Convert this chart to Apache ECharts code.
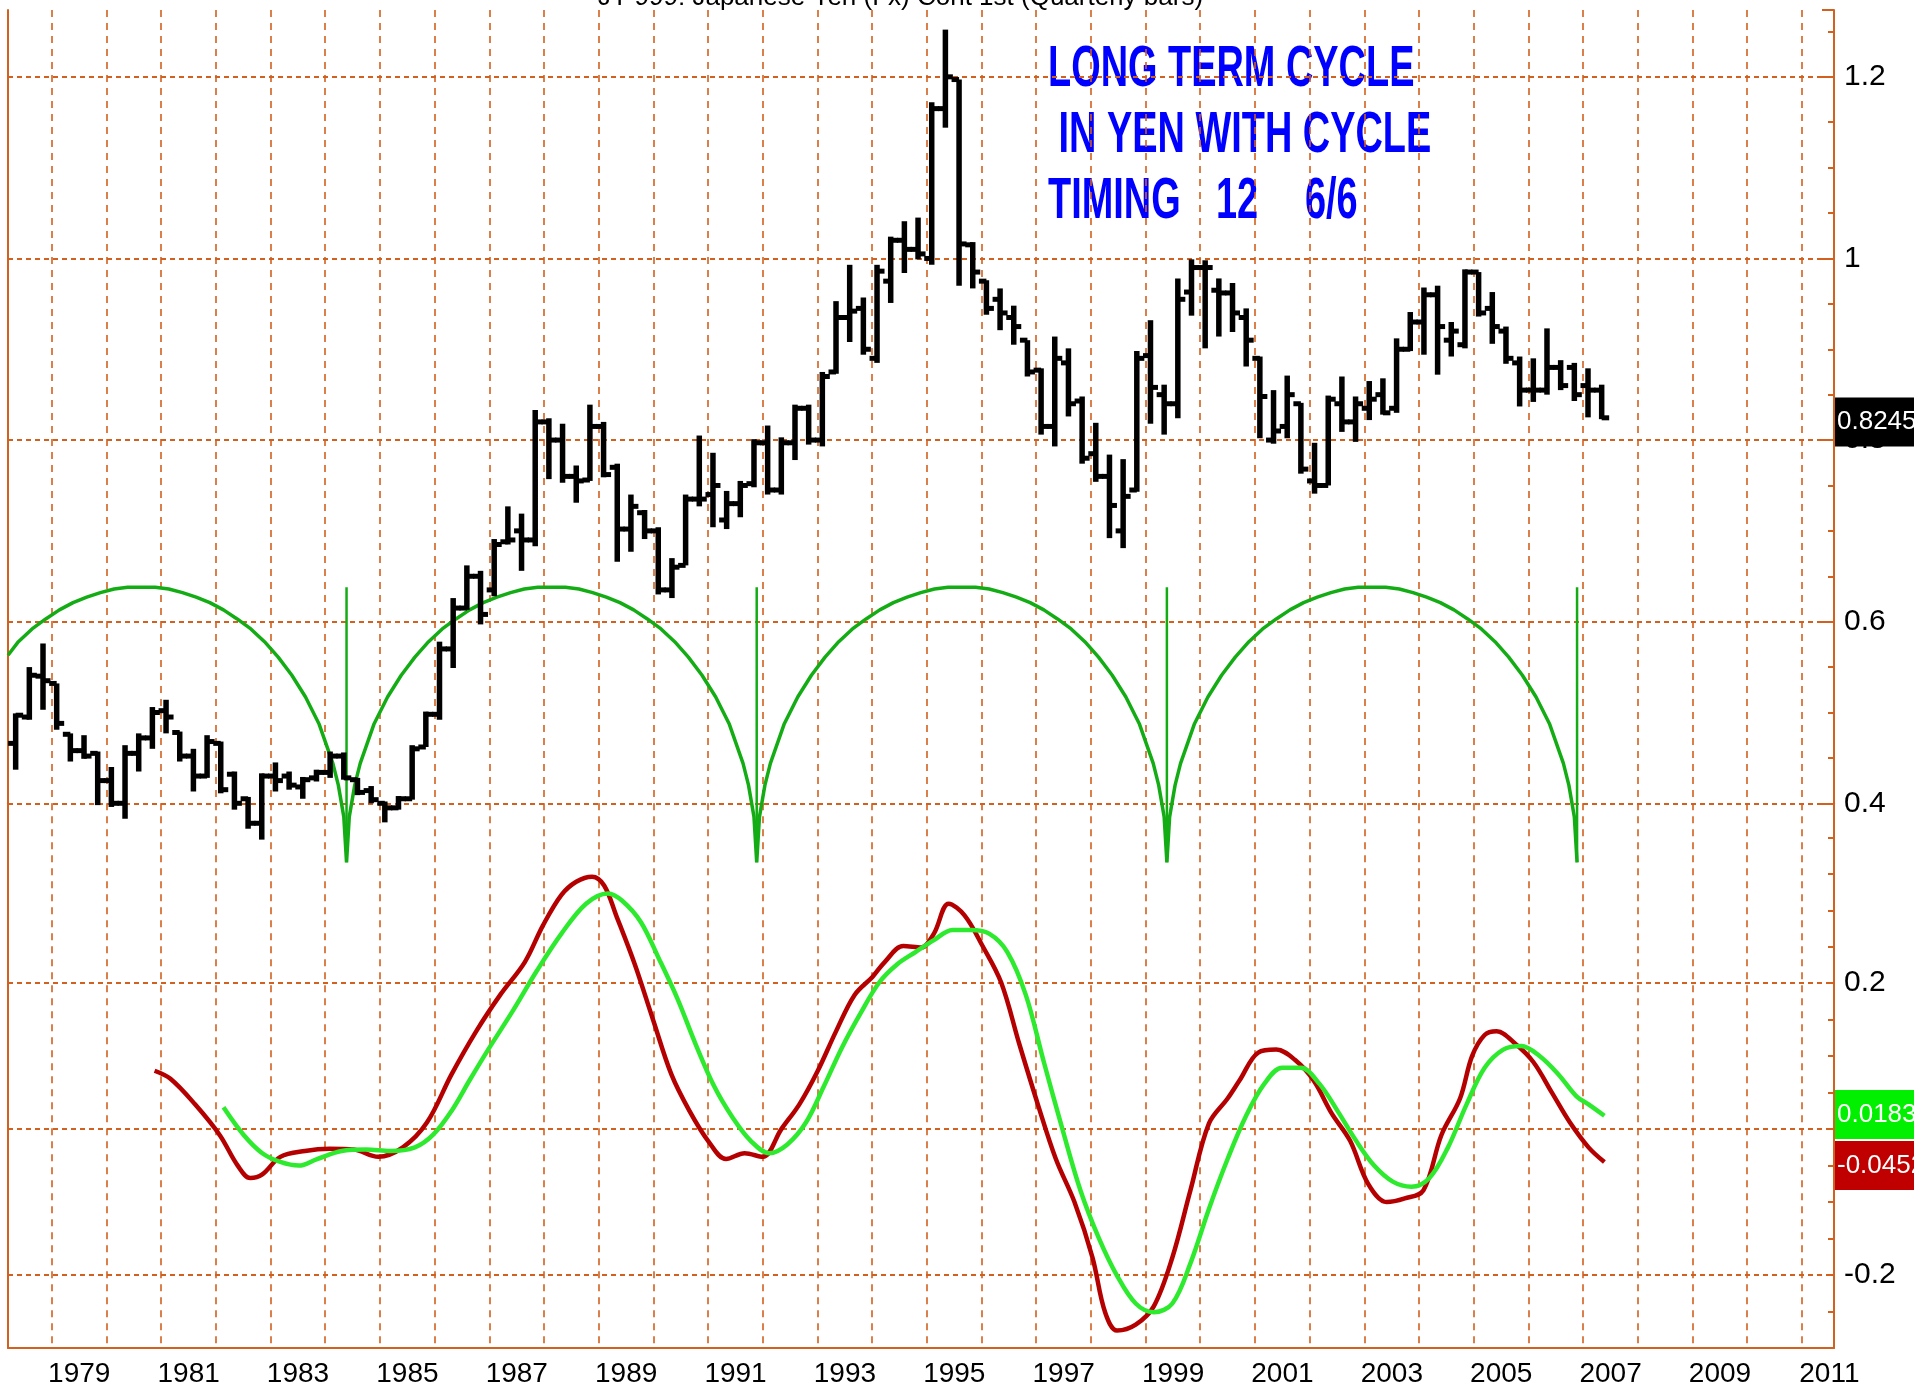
<!DOCTYPE html>
<html>
<head>
<meta charset="utf-8">
<title>JY-999 Japanese Yen - long term cycle</title>
<style>
    html, body { margin: 0; padding: 0; background: #fff; }
    #chart { width: 1914px; height: 1393px; }
</style>
</head>
<body>
<div id="chart"></div>
<script src="https://cdn.jsdelivr.net/npm/echarts@6/dist/echarts.min.js"></script>
<script type="text/javascript">
    // quarterly bars, first one sits at 1978.34
    var firstQuarter = 1978.34;
    var opens = [
        0.466, 0.495, 0.540, 0.532, 0.476, 0.458, 0.455, 0.425, 0.400, 0.455,
        0.472, 0.502, 0.478, 0.452, 0.430, 0.466, 0.432, 0.405, 0.378, 0.430,
        0.430, 0.418, 0.428, 0.434, 0.452, 0.426, 0.414, 0.400, 0.395, 0.405,
        0.462, 0.498, 0.570, 0.615, 0.650, 0.635, 0.688, 0.700, 0.690, 0.820,
        0.800, 0.760, 0.756, 0.815, 0.770, 0.702, 0.720, 0.700, 0.635, 0.662,
        0.735, 0.740, 0.712, 0.730, 0.752, 0.797, 0.745, 0.797, 0.835, 0.800,
        0.875, 0.935, 0.945, 0.890, 0.975, 1.020, 1.010, 1.000, 1.165, 1.197,
        1.015, 0.975, 0.955, 0.935, 0.910, 0.877, 0.815, 0.885, 0.843, 0.785,
        0.760, 0.700, 0.745, 0.893, 0.850, 0.840, 0.963, 0.990, 0.965, 0.962,
        0.935, 0.890, 0.800, 0.815, 0.840, 0.755, 0.750, 0.840, 0.820, 0.835,
        0.850, 0.835, 0.900, 0.930, 0.960, 0.910, 0.905, 0.985, 0.945, 0.920,
        0.885, 0.855, 0.855, 0.880, 0.880, 0.860, 0.855
    ];
    var highs = [
        0.499, 0.550, 0.576, 0.532, 0.477, 0.475, 0.457, 0.440, 0.464, 0.477,
        0.506, 0.514, 0.479, 0.460, 0.475, 0.468, 0.435, 0.407, 0.433, 0.445,
        0.435, 0.429, 0.437, 0.457, 0.456, 0.428, 0.419, 0.402, 0.408, 0.464,
        0.501, 0.578, 0.626, 0.662, 0.656, 0.691, 0.727, 0.719, 0.833, 0.824,
        0.818, 0.772, 0.839, 0.820, 0.774, 0.740, 0.723, 0.704, 0.670, 0.740,
        0.805, 0.786, 0.744, 0.755, 0.801, 0.816, 0.803, 0.839, 0.839, 0.875,
        0.953, 0.993, 0.957, 0.993, 1.024, 1.041, 1.045, 1.172, 1.252, 1.197,
        1.018, 0.976, 0.967, 0.948, 0.910, 0.879, 0.914, 0.901, 0.848, 0.819,
        0.784, 0.779, 0.898, 0.932, 0.861, 0.978, 0.999, 0.998, 0.978, 0.973,
        0.945, 0.892, 0.855, 0.871, 0.841, 0.797, 0.849, 0.870, 0.848, 0.865,
        0.868, 0.912, 0.941, 0.968, 0.970, 0.930, 0.988, 0.985, 0.963, 0.925,
        0.892, 0.890, 0.923, 0.888, 0.885, 0.879, 0.861
    ];
    var lows = [
        0.437, 0.492, 0.503, 0.481, 0.446, 0.449, 0.398, 0.396, 0.383, 0.435,
        0.460, 0.477, 0.446, 0.413, 0.428, 0.411, 0.393, 0.372, 0.360, 0.413,
        0.415, 0.405, 0.424, 0.428, 0.426, 0.409, 0.400, 0.379, 0.393, 0.404,
        0.462, 0.492, 0.549, 0.613, 0.597, 0.628, 0.685, 0.656, 0.683, 0.757,
        0.753, 0.731, 0.755, 0.759, 0.666, 0.677, 0.691, 0.630, 0.626, 0.662,
        0.727, 0.704, 0.702, 0.715, 0.748, 0.740, 0.740, 0.778, 0.795, 0.793,
        0.873, 0.908, 0.894, 0.885, 0.951, 0.984, 0.999, 0.993, 1.144, 0.970,
        0.967, 0.938, 0.921, 0.905, 0.870, 0.806, 0.793, 0.826, 0.774, 0.754,
        0.692, 0.681, 0.743, 0.818, 0.806, 0.824, 0.937, 0.901, 0.914, 0.919,
        0.881, 0.802, 0.796, 0.802, 0.763, 0.741, 0.750, 0.809, 0.798, 0.822,
        0.828, 0.830, 0.898, 0.894, 0.872, 0.892, 0.901, 0.936, 0.906, 0.884,
        0.837, 0.842, 0.850, 0.855, 0.843, 0.825, 0.823
    ];
    var closes = [
        0.497, 0.541, 0.535, 0.488, 0.458, 0.452, 0.425, 0.400, 0.455, 0.472,
        0.500, 0.495, 0.452, 0.430, 0.468, 0.415, 0.400, 0.378, 0.430, 0.425,
        0.420, 0.426, 0.434, 0.452, 0.428, 0.412, 0.404, 0.395, 0.405, 0.460,
        0.498, 0.570, 0.615, 0.650, 0.608, 0.685, 0.690, 0.690, 0.820, 0.800,
        0.760, 0.755, 0.815, 0.762, 0.702, 0.727, 0.700, 0.635, 0.660, 0.735,
        0.735, 0.750, 0.730, 0.750, 0.797, 0.745, 0.797, 0.835, 0.800, 0.870,
        0.935, 0.942, 0.900, 0.986, 1.020, 1.010, 1.005, 1.165, 1.200, 1.016,
        0.985, 0.945, 0.940, 0.925, 0.875, 0.815, 0.890, 0.840, 0.780, 0.760,
        0.728, 0.738, 0.890, 0.858, 0.840, 0.955, 0.990, 0.990, 0.962, 0.940,
        0.910, 0.848, 0.810, 0.850, 0.768, 0.750, 0.845, 0.820, 0.840, 0.845,
        0.830, 0.900, 0.930, 0.960, 0.925, 0.920, 0.985, 0.940, 0.925, 0.890,
        0.855, 0.855, 0.880, 0.860, 0.850, 0.855, 0.8245
    ];

    // long term cycle: lows 7.5 years apart, half-arc profile
    var cycleLows = [1976.89, 1984.39, 1991.89, 1999.39, 2006.89];
    var cycleOffsets = [0, 0.05, 0.15, 0.25, 0.5, 0.75, 1, 1.25, 1.5, 1.75, 2, 2.25, 2.5, 2.75, 3, 3.25, 3.5, 3.75];
    var cycleLevels = [0.335, 0.385, 0.420, 0.444, 0.487, 0.517, 0.541, 0.561, 0.578, 0.592, 0.603, 0.613, 0.621, 0.627, 0.632, 0.636, 0.638, 0.638];
    var cycleEdge = [1978.2, 0.563];
    var cycleTop = 0.638;

    // timing oscillator (lower pane)
    var redYears = [1980.88, 1981.17, 1981.62, 1982.07, 1982.40, 1982.63, 1982.85, 1983.18, 1983.63, 1984.08,
        1984.52, 1984.97, 1985.42, 1985.86, 1986.31, 1986.76, 1987.20, 1987.65, 1987.98, 1988.32,
        1988.59, 1988.88, 1989.10, 1989.32, 1989.66, 1989.99, 1990.33, 1990.66, 1991.00, 1991.33,
        1991.67, 1992.00, 1992.34, 1992.67, 1993.00, 1993.34, 1993.68, 1994.01, 1994.23, 1994.57,
        1994.90, 1995.13, 1995.40, 1995.69, 1996.02, 1996.36, 1996.69, 1997.03, 1997.36, 1997.70,
        1998.03, 1998.26, 1998.48, 1998.82, 1999.15, 1999.49, 1999.82, 2000.16, 2000.50, 2000.72,
        2001.06, 2001.39, 2001.73, 2002.07, 2002.40, 2002.74, 2003.07, 2003.41, 2003.74, 2004.08,
        2004.41, 2004.75, 2004.97, 2005.20, 2005.42, 2005.76, 2006.09, 2006.43, 2006.76, 2007.10, 2007.39];
    var redValues = [0.080, 0.069, 0.034, -0.008, -0.050, -0.067, -0.062, -0.038, -0.030, -0.027,
        -0.028, -0.038, -0.025, 0.009, 0.075, 0.134, 0.184, 0.229, 0.279, 0.321,
        0.339, 0.346, 0.334, 0.293, 0.226, 0.151, 0.075, 0.025, -0.016, -0.041,
        -0.033, -0.038, 0.000, 0.034, 0.079, 0.134, 0.184, 0.209, 0.229, 0.251,
        0.249, 0.268, 0.309, 0.293, 0.251, 0.201, 0.117, 0.034, -0.041, -0.100,
        -0.176, -0.251, -0.276, -0.268, -0.243, -0.176, -0.084, 0.008, 0.042, 0.067,
        0.105, 0.109, 0.095, 0.067, 0.022, -0.016, -0.075, -0.100, -0.095, -0.084,
        -0.008, 0.042, 0.100, 0.129, 0.134, 0.117, 0.092, 0.050, 0.009, -0.025, -0.0452];
    var greenYears = [1982.14, 1982.51, 1982.85, 1983.18, 1983.52, 1983.85, 1984.30, 1984.75, 1985.19, 1985.64,
        1985.97, 1986.31, 1986.64, 1986.98, 1987.43, 1987.87, 1988.32, 1988.77, 1989.17, 1989.43,
        1989.77, 1990.10, 1990.44, 1990.77, 1991.11, 1991.44, 1991.78, 1992.12, 1992.45, 1992.79,
        1993.12, 1993.45, 1993.79, 1994.13, 1994.46, 1994.80, 1995.13, 1995.47, 1995.80, 1996.14,
        1996.47, 1996.81, 1997.14, 1997.48, 1997.81, 1998.15, 1998.48, 1998.82, 1999.15, 1999.49,
        1999.82, 2000.16, 2000.50, 2000.83, 2001.17, 2001.50, 2001.84, 2002.18, 2002.51, 2002.85,
        2003.18, 2003.52, 2003.86, 2004.19, 2004.53, 2004.87, 2005.20, 2005.54, 2005.87, 2006.21,
        2006.55, 2006.88, 2007.10, 2007.39];
    var greenValues = [0.030, -0.008, -0.033, -0.045, -0.050, -0.041, -0.030, -0.028, -0.030, -0.025,
        -0.008, 0.025, 0.067, 0.109, 0.162, 0.217, 0.268, 0.309, 0.323, 0.313,
        0.284, 0.234, 0.179, 0.117, 0.059, 0.017, -0.016, -0.033, -0.021, 0.009,
        0.059, 0.112, 0.159, 0.201, 0.226, 0.243, 0.259, 0.273, 0.273, 0.268,
        0.243, 0.184, 0.092, 0.000, -0.084, -0.150, -0.201, -0.239, -0.251, -0.239,
        -0.184, -0.109, -0.041, 0.017, 0.062, 0.084, 0.084, 0.062, 0.025, -0.016,
        -0.050, -0.072, -0.079, -0.067, -0.025, 0.034, 0.084, 0.109, 0.114, 0.100,
        0.075, 0.045, 0.034, 0.0183];

    // tick labels
    var priceTicks = [0.4, 0.6, 0.8, 1, 1.2];
    var oscTicks = [-0.2, 0.2];
    var yearLabels = [1979, 1981, 1983, 1985, 1987, 1989, 1991, 1993, 1995, 1997,
        1999, 2001, 2003, 2005, 2007, 2009, 2011];

    var orange = '#d2601e';
    var none = 'rgba(0,0,0,0)';
    var labelFont = "'Liberation Sans', Arial, sans-serif";
    var bannerFont = 'bold 57px "Liberation Sans", Arial, sans-serif';

    var bars = [];
    for (var i = 0; i < opens.length; i++) {
        bars.push([firstQuarter + i * 0.25, opens[i], highs[i], lows[i], closes[i]]);
    }

    var cycleData = [cycleEdge];
    for (var k = 0; k < cycleLows.length - 1; k++) {
        var a = cycleLows[k], b = cycleLows[k + 1];
        for (var j = 0; j < cycleOffsets.length; j++) {
            if (a + cycleOffsets[j] > cycleEdge[0]) cycleData.push([a + cycleOffsets[j], cycleLevels[j]]);
        }
        for (var j = cycleOffsets.length - 2; j >= 0; j--) {
            cycleData.push([b - cycleOffsets[j], cycleLevels[j]]);
        }
    }
    var spikes = [];
    for (var k = 0; k < cycleLows.length; k++) {
        if (cycleLows[k] > cycleEdge[0]) spikes.push([cycleLows[k], cycleLevels[0], cycleTop]);
    }

    function pairs(xs, ys) {
        var out = [];
        for (var i = 0; i < xs.length; i++) out.push([xs[i], ys[i]]);
        return out;
    }

    function near(v, list) {
        for (var i = 0; i < list.length; i++) {
            if (Math.abs(v - list[i]) < 1e-6) return true;
        }
        return false;
    }

    function drawBar(params, api) {
        var x = api.value(0);
        var hi = api.coord([x, api.value(2)]);
        var lo = api.coord([x, api.value(3)]);
        var op = api.coord([x, api.value(1)]);
        var cl = api.coord([x, api.value(4)]);
        return {
            type: 'group',
            children: [
                {type: 'line', shape: {x1: hi[0], y1: hi[1], x2: lo[0], y2: lo[1]}, style: {stroke: '#000', lineWidth: 5.5}},
                {type: 'line', shape: {x1: op[0] - 7.5, y1: op[1], x2: op[0], y2: op[1]}, style: {stroke: '#000', lineWidth: 5}},
                {type: 'line', shape: {x1: cl[0], y1: cl[1], x2: cl[0] + 7.5, y2: cl[1]}, style: {stroke: '#000', lineWidth: 5}}
            ]
        };
    }

    function drawSpike(params, api) {
        var x = api.value(0);
        var p0 = api.coord([x, api.value(1)]);
        var p1 = api.coord([x, api.value(2)]);
        return {type: 'line', shape: {x1: p0[0], y1: p0[1], x2: p1[0], y2: p1[1]}, style: {stroke: '#14ac14', lineWidth: 2.5}};
    }

    // last-value box on the right axis
    function tag(value, bg) {
        return {
            silent: true,
            symbol: ['none', 'none'],
            lineStyle: {color: none, width: 0},
            label: {
                show: true, position: 'end', distance: 1,
                formatter: String(value),
                color: '#fff', backgroundColor: bg,
                fontFamily: labelFont, fontSize: 26,
                padding: [12, 2, 11, 2]
            },
            data: [{yAxis: value}]
        };
    }

    // x ticks every 0.2 yr from 1978.2, only whole years get a grid line
    var yearGrid = {
        show: true, showMinLine: true, showMaxLine: false,
        lineStyle: {color: [none, none, none, none, orange], width: 1.6, type: [7, 6]}
    };
    var hStyle = {color: orange, width: 2, type: [5, 4]};
    var edge = {color: orange, width: 2};

    var myChart = echarts.init(document.getElementById('chart'));
    var option = {
        animation: false,
        backgroundColor: '#fff',
        grid: [
            {left: 8, right: 80, top: 10, height: 793.3},
            {left: 8, right: 80, top: 803.3, bottom: 45}
        ],
        graphic: [
            {type: 'text', x: 598, y: -2, style: {text: 'JY-999: Japanese Yen (Fx) Cont 1st (Quarterly bars)', font: '26px ' + labelFont, fill: '#000', verticalAlign: 'middle'}},
            {type: 'text', x: 1048, y: 70, scaleX: 0.665, style: {text: 'LONG TERM CYCLE', font: bannerFont, fill: '#0000ff', verticalAlign: 'middle'}},
            {type: 'text', x: 1048, y: 136, scaleX: 0.665, style: {text: ' IN YEN WITH CYCLE', font: bannerFont, fill: '#0000ff', verticalAlign: 'middle'}},
            {type: 'text', x: 1048, y: 202, scaleX: 0.665, style: {text: 'TIMING', font: bannerFont, fill: '#0000ff', verticalAlign: 'middle'}},
            {type: 'text', x: 1216, y: 202, scaleX: 0.665, style: {text: '12', font: bannerFont, fill: '#0000ff', verticalAlign: 'middle'}},
            {type: 'text', x: 1305, y: 202, scaleX: 0.665, style: {text: '6/6', font: bannerFont, fill: '#0000ff', verticalAlign: 'middle'}}
        ],
        xAxis: [
            {
                type: 'value', gridIndex: 0, min: 1978.2, max: 2011.588, interval: 0.2,
                axisLine: {show: false}, axisTick: {show: false}, axisLabel: {show: false},
                splitLine: yearGrid
            },
            {
                type: 'value', gridIndex: 1, min: 1978.2, max: 2011.588, interval: 0.2,
                axisLine: {show: true, onZero: false, lineStyle: edge},
                axisTick: {show: false},
                axisLabel: {
                    color: '#000', fontFamily: labelFont, fontSize: 28, margin: 12,
                    padding: [0, 0, 0, 55],
                    formatter: function (v) { return near(v, yearLabels) ? String(Math.round(v)) : ''; }
                },
                splitLine: yearGrid
            }
        ],
        yAxis: [
            {
                type: 'value', gridIndex: 0, position: 'right',
                min: 0.4, max: 1.2736, interval: 0.2,
                axisLine: {show: true, onZero: false, lineStyle: edge},
                axisTick: {show: true, inside: true, length: 12, lineStyle: edge},
                minorTick: {show: true, splitNumber: 4, length: 6, lineStyle: edge},
                axisLabel: {
                    color: '#000', fontFamily: labelFont, fontSize: 30, margin: 10,
                    formatter: function (v) { return near(v, priceTicks) ? String(Math.round(v * 10) / 10) : ''; }
                },
                splitLine: {show: true, showMinLine: true, showMaxLine: false, lineStyle: hStyle}
            },
            {
                type: 'value', gridIndex: 1, position: 'right',
                min: -0.3, max: 0.4466, interval: 0.1,
                axisLine: {show: true, onZero: false, lineStyle: edge},
                axisTick: {show: true, inside: true, length: 6, lineStyle: edge},
                minorTick: {show: true, splitNumber: 2, length: 6, lineStyle: edge},
                axisLabel: {
                    color: '#000', fontFamily: labelFont, fontSize: 30, margin: 10,
                    formatter: function (v) { return near(v, oscTicks) ? String(Math.round(v * 10) / 10) : ''; }
                },
                splitLine: {
                    show: true, showMinLine: true, showMaxLine: false,
                    lineStyle: {color: [none, orange, none, orange, none, orange, none, none], width: 2, type: [5, 4]}
                }
            },
            // left border lines
            {type: 'value', gridIndex: 0, position: 'left',
                axisLine: {show: true, onZero: false, lineStyle: edge},
                axisTick: {show: false}, axisLabel: {show: false}, splitLine: {show: false}},
            {type: 'value', gridIndex: 1, position: 'left',
                axisLine: {show: true, onZero: false, lineStyle: edge},
                axisTick: {show: false}, axisLabel: {show: false}, splitLine: {show: false}}
        ],
        series: [
            {
                name: 'cycle', type: 'line', xAxisIndex: 0, yAxisIndex: 0,
                data: cycleData, showSymbol: false, clip: false, z: 3,
                lineStyle: {color: '#14ac14', width: 3.5},
                markLine: tag(closes[closes.length - 1], '#000')
            },
            {
                name: 'cycle lows', type: 'custom', xAxisIndex: 0, yAxisIndex: 0,
                renderItem: drawSpike, data: spikes, clip: false, z: 3,
                encode: {x: 0, y: [1, 2]}
            },
            {
                name: 'JY-999', type: 'custom', xAxisIndex: 0, yAxisIndex: 0,
                renderItem: drawBar, data: bars, clip: false, z: 4,
                encode: {x: 0, y: [1, 2, 3, 4]}
            },
            {
                name: 'fast', type: 'line', xAxisIndex: 1, yAxisIndex: 1,
                data: pairs(redYears, redValues), showSymbol: false, smooth: 0.35, z: 3,
                lineStyle: {color: '#b40000', width: 4.5},
                markLine: tag(redValues[redValues.length - 1], '#c00000')
            },
            {
                name: 'slow', type: 'line', xAxisIndex: 1, yAxisIndex: 1,
                data: pairs(greenYears, greenValues), showSymbol: false, smooth: 0.35, z: 3,
                lineStyle: {color: '#2eea2e', width: 4.5},
                markLine: tag(greenValues[greenValues.length - 1], '#00f000')
            }
        ]
    };
    myChart.setOption(option);
</script>
</body>
</html>
